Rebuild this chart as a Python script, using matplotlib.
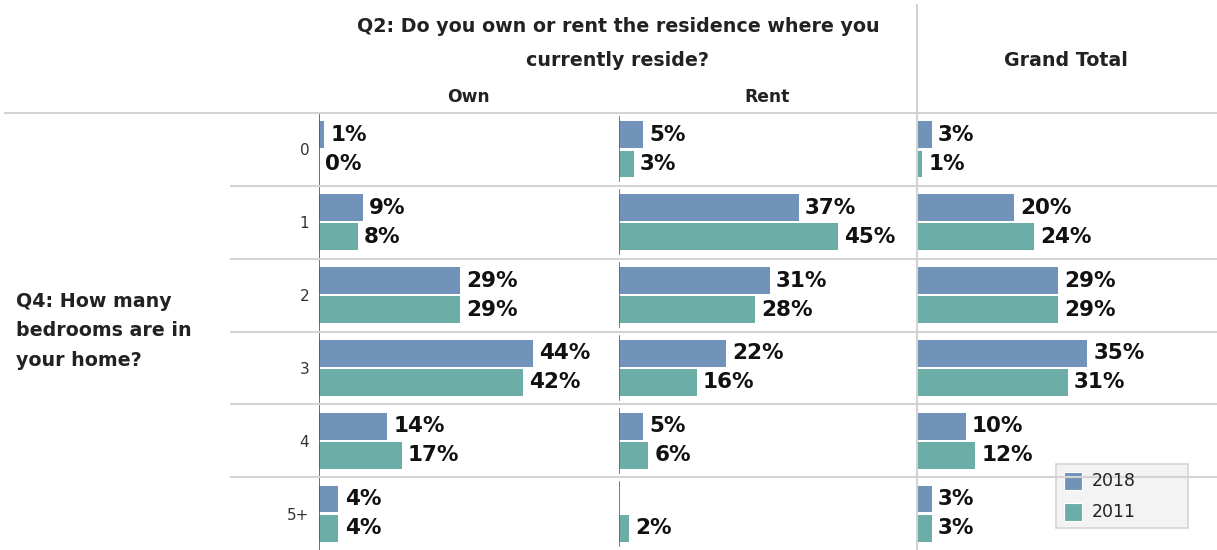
import numpy as np
import matplotlib.pyplot as plt
from matplotlib.patches import Rectangle
from matplotlib.lines import Line2D

plt.rcParams['font.family'] = ['DejaVu Sans']

# Data (percent of respondents)
bedrooms = ['0', '1', '2', '3', '4', '5+']
own_2018 = [1, 9, 29, 44, 14, 4]
own_2011 = [0, 8, 29, 42, 17, 4]
rent_2018 = [5, 37, 31, 22, 5, np.nan]
rent_2011 = [3, 45, 28, 16, 6, 2]
total_2018 = [3, 20, 29, 35, 10, 3]
total_2011 = [1, 24, 29, 31, 12, 3]
years = ['2018', '2011']

c2018 = '#7193b9'
c2011 = '#6cada7'
sep_color = '#d3d3d3'

W, H = 1217, 550
fig = plt.figure(figsize=(W / 100, H / 100), dpi=100)


def fx(x):
    return x / W


def fy(y):
    return 1 - y / H


top, bottom = 113, 550
px_per_pct = 4.86
panels = [(319, 618), (619, 916), (917, 1217)]
axes = []
for x0, x1 in panels:
    ax = fig.add_axes([fx(x0), fy(bottom), (x1 - x0) / W, (bottom - top) / H])
    ax.set_xlim(0, (x1 - x0) / px_per_pct)
    ax.set_ylim(len(bedrooms) - 0.5, -0.5)
    for s in ax.spines.values():
        s.set_visible(False)
    ax.set_xticks([])
    ax.set_yticks([])
    axes.append(ax)

ax_own, ax_rent, ax_tot = axes
ypos = np.arange(len(bedrooms))

for ax, v18, v11 in [(ax_own, own_2018, own_2011),
                     (ax_rent, rent_2018, rent_2011),
                     (ax_tot, total_2018, total_2011)]:
    ax.barh(ypos - 0.2, v18, height=0.37, color=c2018)
    ax.barh(ypos + 0.2, v11, height=0.37, color=c2011)
    for y, a, b in zip(ypos, v18, v11):
        if not np.isnan(a):
            ax.annotate(f'{a:.0f}%', (a, y - 0.2), xytext=(4.5, 0), textcoords='offset points',
                        va='center', ha='left', fontsize=15.5, fontweight='bold', color='#111111')
        ax.annotate(f'{b:.0f}%', (b, y + 0.2), xytext=(4.5, 0), textcoords='offset points',
                    va='center', ha='left', fontsize=15.5, fontweight='bold', color='#111111')

# zero lines
ax_own.axvline(0, color='#555555', lw=1.2)
for y in ypos:
    ax_rent.plot([0, 0], [y - 0.44, y + 0.44], color='#666666', lw=1.2)

# category tick labels
ax_own.set_yticks(ypos)
ax_own.set_yticklabels(bedrooms, fontsize=11, color='#333333')
ax_own.tick_params(axis='y', length=0, pad=7)

# row separators
for i in range(len(bedrooms)):
    yb = top + (bottom - top) * i / len(bedrooms)
    x_start = 5 if i == 0 else 231
    fig.add_artist(Line2D([fx(x_start), 1], [fy(yb), fy(yb)], color=sep_color, lw=1.5))

# grand total divider
fig.add_artist(Line2D([fx(916.5), fx(916.5)], [fy(5), 0], color=sep_color, lw=1.5))

# headers
hdr = dict(fontweight='bold', color='#222222', ha='center', va='center')
fig.text(fx(618), fy(27), 'Q2: Do you own or rent the residence where you', fontsize=13.7, **hdr)
fig.text(fx(618), fy(60), 'currently reside?', fontsize=13.7, **hdr)
fig.text(fx(468), fy(97), 'Own', fontsize=12.3, **hdr)
fig.text(fx(767), fy(97), 'Rent', fontsize=12.3, **hdr)
fig.text(fx(1066), fy(60), 'Grand Total', fontsize=13.7, **hdr)
fig.text(fx(16), fy(331), 'Q4: How many\nbedrooms are in\nyour home?', ha='left', va='center',
         fontsize=13.7, fontweight='bold', color='#222222', linespacing=1.72)

# legend box
fig.add_artist(Rectangle((fx(1056), fy(528)), (1188 - 1056) / W, (528 - 464) / H,
                         facecolor='#f3f3f3', edgecolor='#d6d6d6', lw=1.2, transform=fig.transFigure))
for (yr, col), yc in zip(zip(years, [c2018, c2011]), [481, 512]):
    fig.add_artist(Rectangle((fx(1064), fy(yc + 9)), 18 / W, 18 / H, facecolor=col,
                             edgecolor='white', lw=0.8, transform=fig.transFigure))
    fig.text(fx(1092), fy(yc), yr, ha='left', va='center', fontsize=12.5, color='#222222')

plt.savefig('out.png', dpi=100)
